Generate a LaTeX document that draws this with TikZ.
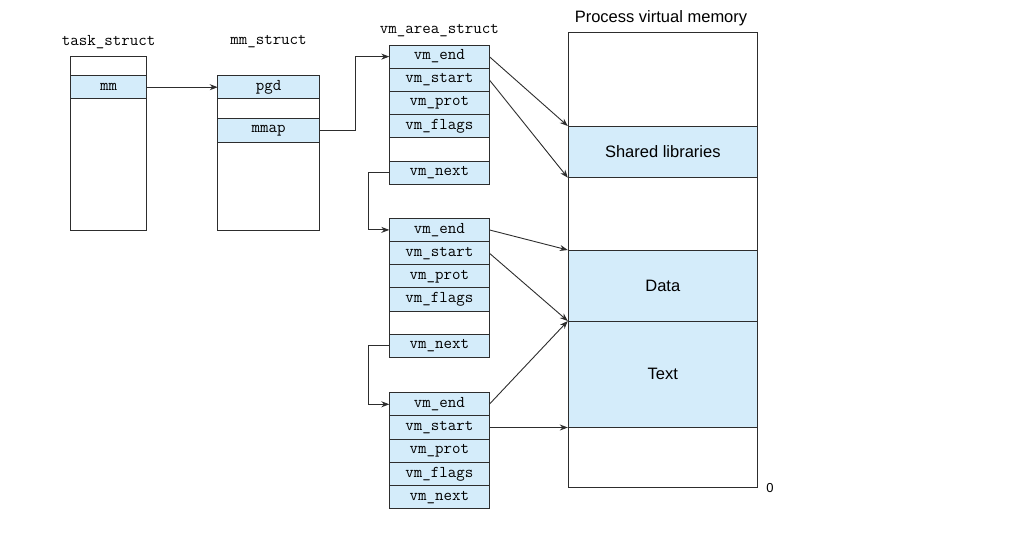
\documentclass[tikz,border=0pt]{standalone}
\usepackage{fontspec}
\setmainfont{Latin Modern Roman}
\newfontfamily\labelsans{Liberation Sans}
\usetikzlibrary{arrows.meta}
\definecolor{fieldblue}{RGB}{212,236,250}
\definecolor{edge}{RGB}{45,45,45}
\begin{document}
\begin{tikzpicture}[x=1pt,y=-1pt,
  field/.style={draw=edge, line width=0.9pt, fill=fieldblue, anchor=north west,
    inner sep=0pt, outer sep=0pt, minimum height=23.2pt,
    font=\ttfamily\fontsize{16.5}{17}\selectfont},
  blank/.style={field, fill=white},
  frame/.style={draw=edge, line width=0.9pt, fill=white, anchor=north west,
    inner sep=0pt, outer sep=0pt},
  region/.style={draw=edge, line width=0.9pt, fill=fieldblue, anchor=north west,
    inner sep=0pt, outer sep=0pt, minimum width=189pt,
    font=\labelsans\fontsize{16.5}{18}\selectfont},
  title/.style={font=\ttfamily\fontsize{16.5}{17}\selectfont, inner sep=0pt},
  arr/.style={draw=edge, line width=0.9pt, -{Stealth[length=8pt,width=6pt]}}
]
\useasboundingbox (0,0) rectangle (1031,533);

% task_struct
\node[title] (tasklbl) at (108.7,42) {task\_struct};
\node[frame, minimum width=76pt, minimum height=173.3pt] (task) at (70.7,56.7) {};
\node[field, minimum width=76pt, minimum height=23pt] (mm) at (70.7,75.7) {mm};

% mm_struct
\node[title] (mmlbl) at (268.5,42) {mm\_struct};
\node[frame, minimum width=101.6pt, minimum height=154.3pt] (mms) at (217.7,75.7) {};
\node[field, minimum width=101.6pt, minimum height=23pt] (pgd) at (217.7,75.7) {pgd};
\node[field, minimum width=101.6pt, minimum height=24pt] (mmap) at (217.7,118.7) {mmap};

% vm_area_struct chain
\node[title] (vmlbl) at (439.3,31) {vm\_area\_struct};
\begin{scope}[every node/.append style={minimum width=100pt}]
  \node[field] (aend) at (389.3,45) {vm\_end};
  \node[field] (astart) at (aend.south west) {vm\_start};
  \node[field] (aprot) at (astart.south west) {vm\_prot};
  \node[field] (aflags) at (aprot.south west) {vm\_flags};
  \node[blank] (ablank) at (aflags.south west) {};
  \node[field] (anext) at (ablank.south west) {vm\_next};

  \node[field] (bend) at (389.3,218.3) {vm\_end};
  \node[field] (bstart) at (bend.south west) {vm\_start};
  \node[field] (bprot) at (bstart.south west) {vm\_prot};
  \node[field] (bflags) at (bprot.south west) {vm\_flags};
  \node[blank] (bblank) at (bflags.south west) {};
  \node[field] (bnext) at (bblank.south west) {vm\_next};

  \node[field] (cend) at (389.3,392.7) {vm\_end};
  \node[field] (cstart) at (cend.south west) {vm\_start};
  \node[field] (cprot) at (cstart.south west) {vm\_prot};
  \node[field] (cflags) at (cprot.south west) {vm\_flags};
  \node[field] (cnext) at (cflags.south west) {vm\_next};
\end{scope}

% process virtual memory
\node[font=\labelsans\fontsize{16.5}{18}\selectfont, inner sep=0pt] (pvmlbl) at (661,18) {Process virtual memory};
\node[frame, minimum width=189pt, minimum height=455pt] (pvm) at (568.3,32.3) {};
\node[region, minimum height=51.7pt] (shlib) at (568.3,126) {Shared libraries};
\node[region, minimum height=71pt] (data) at (568.3,250) {Data};
\node[region, minimum height=106.5pt] (text) at (568.3,321) {Text};
\node[font=\labelsans\fontsize{13}{14}\selectfont, inner sep=0pt] (zero) at (770,488) {0};

% pointers between structures
\draw[arr] (mm.east) -- (pgd.west);
\draw[arr] (mmap.east) -- ++(36,0) |- (aend.west);
\draw[arr] (anext.west) -- ++(-21,0) |- (bend.west);
\draw[arr] (bnext.west) -- ++(-21,0) |- (cend.west);

% area bounds into the address space
\draw[arr] (aend.east) -- ([xshift=-0.5pt]shlib.north west);
\draw[arr] (astart.east) -- ([xshift=-0.5pt]shlib.south west);
\draw[arr] (bend.east) -- ([xshift=-0.5pt]data.north west);
\draw[arr] (bstart.east) -- ([xshift=-0.5pt]text.north west);
\draw[arr] (cend.east) -- ([xshift=-0.5pt]text.north west);
\draw[arr] (cstart.east) -- ([xshift=-0.5pt]text.south west);
\end{tikzpicture}
\end{document}
